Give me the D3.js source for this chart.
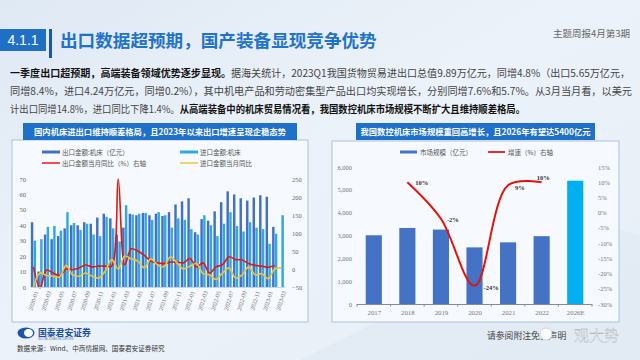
<!DOCTYPE html>
<html><head><meta charset="utf-8">
<script src="https://cdn.jsdelivr.net/npm/d3@7"></script>
<style>body{margin:0;background:#e9f0f8}svg{display:block}</style>
</head><body>
<svg id="c" width="640" height="360"></svg>
<script>
// ---------- data ----------
const months = ["2020-01","2020-02","2020-03","2020-04","2020-05","2020-06","2020-07","2020-08","2020-09","2020-10","2020-11","2020-12",
"2021-01","2021-02","2021-03","2021-04","2021-05","2021-06","2021-07","2021-08","2021-09","2021-10","2021-11","2021-12",
"2022-01","2022-02","2022-03","2022-04","2022-05","2022-06","2022-07","2022-08","2022-09","2022-10","2022-11","2022-12",
"2023-01","2023-02","2023-03"];
const monthTicks = ["2020-01","2020-03","2020-05","2020-07","2020-09","2020-11","2021-01","2021-03","2021-05","2021-07","2021-09","2021-11","2022-01","2022-03","2022-05","2022-07","2022-09","2022-11","2023-01","2023-03"];
const exportValue = [42,10,34,31,33,38,40,40,42,41,45,47.5,44.5,34,38.5,47.5,46.5,48,46.5,47.5,46,48.5,53.5,55.5,57.5,35.5,44,43,49,55,62,60,57.5,56,58,59.5,58.5,39,null];
const importValue = [30,31,39,39.5,36.5,48.5,41.5,37,41,34,33,45.5,38,29.5,53,47,47.5,48,43.5,48.5,46.5,38.5,44.5,43.5,37.5,34,46.5,40,33,41,48.5,39.5,36,42,38.5,37.5,28,34.5,46.5];
const exportYoY = [6,-52,-3,-11,-18,0,-2,3,11,6,8,8,8,250,12,56,50,38,22,17,15,19,19,17,29,6,17,-11,6,12,34,26,25,15,10,8,5,10,null];
const importYoY = [-50,-11,-18,-20,-22,10,-16,-20,-11,-20,-25,-6,26,0,36,28,22,3,28,12,6,34,17,0,8,15,-13,-16,-29,-11,3,-25,-16,6,-16,-13,-27,0,3];
const leftTicksL = [0,10,20,30,40,50,60,70];
const leftTicksR = [-50,0,50,100,150,200,250];

const years = ["2017","2018","2019","2020","2021","2022","2026E"];
const marketSize = [3010,3330,3260,2480,2700,2970,5400];
const growthYears = ["2018","2019","2020","2021","2022"];
const growth = [10,-2,-24,9,10];
const rightTicksL = [0,1000,2000,3000,4000,5000,6000];
const rightTicksR = [-30,-25,-20,-15,-10,-5,0,5,10,15];

// ---------- setup ----------
const svg = d3.select("#c");
const CJK = "'Noto Sans CJK SC','Noto Sans',sans-serif";
const SERIF = "'Liberation Serif','DejaVu Serif',serif";
const defs = svg.append("defs");
const bg = defs.append("linearGradient").attr("id","bg").attr("x1",0).attr("y1",0).attr("x2",1).attr("y2",1);
bg.append("stop").attr("offset","0%").attr("stop-color","#dfe9f4");
bg.append("stop").attr("offset","45%").attr("stop-color","#ecf2f9");
bg.append("stop").attr("offset","100%").attr("stop-color","#e6eef7");
svg.append("rect").attr("width",640).attr("height",360).attr("fill","url(#bg)");
svg.append("path").attr("d","M300,360 L360,330 L420,300 L470,270 L520,250 L560,240 L600,225 L640,235 L640,360 Z")
  .attr("fill","#dfe8f2").attr("opacity",0.6);

// ---------- header ----------
svg.append("rect").attr("x",0).attr("y",29).attr("width",46).attr("height",22).attr("fill","#1f6fc5");
svg.append("text").attr("x",23).attr("y",45).attr("text-anchor","middle").attr("fill","#fff")
  .attr("font-family","'Liberation Sans',Arial,sans-serif").attr("font-size",14).text("4.1.1");
svg.append("rect").attr("x",49).attr("y",29).attr("width",3).attr("height",29).attr("fill","#1c57a5");
svg.append("text").attr("x",60).attr("y",47).attr("fill","#1f73c9").attr("font-family",CJK)
  .attr("font-weight","bold").attr("font-size",17.6).text("出口数据超预期，国产装备显现竞争优势");
svg.append("text").attr("x",630).attr("y",37).attr("text-anchor","end").attr("fill","#666")
  .attr("font-family",CJK).attr("font-size",9.5).text("主题周报4月第3期");

const para = [
  {y:77, w:620, parts:[["一季度出口超预期，高端装备领域优势逐步显现。",true],["据海关统计，2023Q1我国货物贸易进出口总值9.89万亿元，同增4.8%（出口5.65万亿元，",false]]},
  {y:95, w:622, parts:[["同增8.4%，进口4.24万亿元，同增0.2%），其中机电产品和劳动密集型产品出口均实现增长，分别同增7.6%和5.7%。从3月当月看，以美元",false]]},
  {y:113, w:515, parts:[["计出口同增14.8%，进口同比下降1.4%。",false],["从高端装备中的机床贸易情况看，我国数控机床市场规模不断扩大且维持顺差格局。",true]]}
];
para.forEach(p=>{
  const t = svg.append("text").attr("x",10).attr("y",p.y).attr("font-family",CJK).attr("font-size",10.2)
    .attr("fill","#333").attr("textLength",p.w).attr("lengthAdjust","spacingAndGlyphs");
  p.parts.forEach(([s,b])=>t.append("tspan").attr("font-weight",b?"bold":"normal").attr("fill",b?"#111":"#444").text(s));
});

// ---------- left chart ----------
svg.append("rect").attr("x",12).attr("y",140).attr("width",296).attr("height",182)
  .attr("fill","#f6f9fd").attr("stroke","#a9c2de").attr("stroke-width",1);
svg.append("rect").attr("x",23).attr("y",123).attr("width",274).attr("height",17).attr("fill","#1e70c8");
svg.append("text").attr("x",160).attr("y",135).attr("text-anchor","middle").attr("fill","#fff")
  .attr("font-family",CJK).attr("font-weight","bold").attr("font-size",8.3)
  .text("国内机床进出口维持顺差格局，且2023年以来出口增速呈现企稳态势");

const C_EXP="#4470c2", C_IMP="#2fa9e3", C_RED="#e01a12", C_YEL="#ecc63a";
const legL = [
  {x:42,y:152,c:C_EXP,t:"出口金额:机床（亿元）",w:3},
  {x:180,y:152,c:C_IMP,t:"进口金额:机床",w:3},
  {x:42,y:163,c:C_RED,t:"出口金额当月同比（%）右轴",w:1.5},
  {x:180,y:163,c:C_YEL,t:"进口金额当月同比",w:1.5}
];
legL.forEach(l=>{
  svg.append("line").attr("x1",l.x).attr("x2",l.x+18).attr("y1",l.y).attr("y2",l.y).attr("stroke",l.c).attr("stroke-width",l.w);
  svg.append("text").attr("x",l.x+20).attr("y",l.y+2.5).attr("font-family",CJK).attr("font-size",6.5).attr("fill","#555").text(l.t);
});

const xL = d3.scaleBand().domain(months).range([30.2,284.5]).paddingInner(0.2).paddingOuter(0.1);
const xSub = d3.scaleBand().domain(["e","i"]).range([0,xL.bandwidth()]).paddingInner(0.12);
const yL = d3.scaleLinear().domain([0,70]).range([287,179]);
const yLR = d3.scaleLinear().domain([-50,250]).range([287,179]);

const gL = svg.append("g");
gL.selectAll("rect.e").data(months.map((m,i)=>({m,v:exportValue[i]})).filter(d=>d.v!=null)).join("rect")
  .attr("x",d=>xL(d.m)+xSub("e")).attr("width",xSub.bandwidth()).attr("y",d=>yL(d.v)).attr("height",d=>yL(0)-yL(d.v)).attr("fill",C_EXP);
gL.selectAll("rect.i").data(months.map((m,i)=>({m,v:importValue[i]}))).join("rect")
  .attr("x",d=>xL(d.m)+xSub("i")).attr("width",xSub.bandwidth()).attr("y",d=>yL(d.v)).attr("height",d=>yL(0)-yL(d.v)).attr("fill",C_IMP);

const cx = m=>xL(m)+xL.bandwidth()/2;
const lineL = d3.line().defined(d=>d.v!=null).x(d=>cx(d.m)).y(d=>yLR(d.v)).curve(d3.curveCatmullRom.alpha(0.5));
svg.append("defs").append("clipPath").attr("id","clipL").append("rect").attr("x",28).attr("y",170).attr("width",262).attr("height",119);
gL.append("path").attr("clip-path","url(#clipL)").datum(months.map((m,i)=>({m,v:exportYoY[i]}))).attr("d",lineL)
  .attr("fill","none").attr("stroke",C_RED).attr("stroke-width",1.6);
gL.append("path").attr("clip-path","url(#clipL)").datum(months.map((m,i)=>({m,v:importYoY[i]}))).attr("d",lineL)
  .attr("fill","none").attr("stroke",C_YEL).attr("stroke-width",1.6);

const axL = svg.append("g").attr("transform","translate(28,0)").call(d3.axisLeft(yL).tickValues(leftTicksL).tickSize(0).tickPadding(2));
const axLR = svg.append("g").attr("transform","translate(290,0)").call(d3.axisRight(yLR).tickValues(leftTicksR).tickSize(0).tickPadding(2));
[axL,axLR].forEach(a=>{a.select(".domain").remove();a.selectAll("text").attr("font-family",SERIF).attr("font-size",6.5).attr("fill","#666");});
const axLB = svg.append("g").attr("transform","translate(0,287)").call(d3.axisBottom(xL).tickValues(monthTicks).tickSize(0));
axLB.select(".domain").attr("stroke","#c8d3e0");
axLB.selectAll("text").attr("font-family",SERIF).attr("font-size",6).attr("fill","#777")
  .attr("text-anchor","end").attr("dy",0).attr("transform","translate(2,4) rotate(-72)");

// ---------- right chart ----------
svg.append("rect").attr("x",332).attr("y",141).attr("width",287).attr("height",181)
  .attr("fill","#f6f9fd").attr("stroke","#a9c2de").attr("stroke-width",1);
svg.append("rect").attr("x",356).attr("y",123).attr("width",239).attr("height",17).attr("fill","#1e70c8");
svg.append("text").attr("x",475.5).attr("y",135).attr("text-anchor","middle").attr("fill","#fff")
  .attr("font-family",CJK).attr("font-weight","bold").attr("font-size",8.3)
  .text("我国数控机床市场规模重回高增长，且2026年有望达5400亿元");

const legR = [{x:400,c:"#4472c4",t:"市场规模（亿元）",w:3},{x:488,c:C_RED,t:"增速（%）右轴",w:1.8}];
legR.forEach(l=>{
  svg.append("line").attr("x1",l.x).attr("x2",l.x+17).attr("y1",152).attr("y2",152).attr("stroke",l.c).attr("stroke-width",l.w);
  svg.append("text").attr("x",l.x+20).attr("y",154.5).attr("font-family",CJK).attr("font-size",6.5).attr("fill","#555").text(l.t);
});

const xR = d3.scalePoint().domain(years).range([357,592]).padding(0.5);
const bw = xR.step()*0.48;
const yR = d3.scaleLinear().domain([0,6000]).range([304,167]);
const yP = d3.scaleLinear().domain([-30,15]).range([304,167]);

svg.append("g").selectAll("rect").data(years.map((y,i)=>({y,v:marketSize[i]}))).join("rect")
  .attr("x",d=>xR(d.y)-bw/2).attr("width",bw).attr("y",d=>yR(d.v)).attr("height",d=>yR(0)-yR(d.v))
  .attr("fill",d=>d.y==="2026E"?"#00b0f0":"#4472c4");

const axR = svg.append("g").attr("transform","translate(355,0)").call(d3.axisLeft(yR).tickValues(rightTicksL).tickSize(0).tickPadding(3));
const axRR = svg.append("g").attr("transform","translate(595,0)").call(d3.axisRight(yP).tickValues(rightTicksR).tickSize(0).tickPadding(3).tickFormat(d=>d+"%"));
[axR,axRR].forEach(a=>{a.select(".domain").remove();a.selectAll("text").attr("font-family",SERIF).attr("font-size",6.5).attr("fill","#777");});
const axRB = svg.append("g").attr("transform","translate(0,304)").call(d3.axisBottom(xR).tickSize(0).tickPadding(6));
axRB.select(".domain").attr("stroke","#8a8a8a").attr("d","M357,0.5H592");
axRB.selectAll("text").attr("font-family",SERIF).attr("font-size",6.8).attr("fill","#777");
axRB.selectAll("line.sep").data(d3.range(years.length+1)).join("line").attr("class","sep")
  .attr("x1",i=>357+i*xR.step()).attr("x2",i=>357+i*xR.step()).attr("y1",0).attr("y2",2.5).attr("stroke","#8a8a8a");

const gData = growthYears.map((y,i)=>({y,v:growth[i]}));
svg.append("path").datum(gData).attr("d",d3.line().x(d=>xR(d.y)).y(d=>yP(d.v)).curve(d3.curveCatmullRom.alpha(0.5)))
  .attr("fill","none").attr("stroke","#e3120b").attr("stroke-width",2);
const lblOff = {"2018":[8,2.5],"2019":[6,3],"2020":[9,4],"2021":[7,5],"2022":[-5,-2.5]};
svg.append("g").selectAll("text").data(gData).join("text")
  .attr("x",d=>xR(d.y)+lblOff[d.y][0]).attr("y",d=>yP(d.v)+lblOff[d.y][1])
  .attr("font-family",SERIF).attr("font-weight","bold").attr("font-size",6.5).attr("fill","#333")
  .text(d=>d.v+"%");

// ---------- footer ----------
svg.append("ellipse").attr("cx",26).attr("cy",333).attr("rx",8.5).attr("ry",5.5).attr("fill","#1d55a8");
svg.append("ellipse").attr("cx",28.5).attr("cy",333).attr("rx",4.5).attr("ry",4).attr("fill","#fff");
svg.append("text").attr("x",38).attr("y",335.5).attr("font-family",CJK).attr("font-weight","bold").attr("font-size",8.8).attr("fill","#1d4f9e").text("国泰君安证券");
svg.append("text").attr("x",38).attr("y",340).attr("font-family","'Liberation Sans',sans-serif").attr("font-size",2.6).attr("fill","#5a78a8").text("GUOTAI JUNAN SECURITIES");
svg.append("text").attr("x",17).attr("y",351).attr("font-family",CJK).attr("font-size",6.6).attr("fill","#333").text("数据来源：Wind、中商情报网、国泰君安证券研究");
svg.append("text").attr("x",487).attr("y",339).attr("font-family",CJK).attr("font-size",8.8).attr("fill","#444").text("请参阅附注免责声明");
svg.append("circle").attr("cx",546).attr("cy",334).attr("r",6).attr("fill","#fafcfe").attr("stroke","#c9ced6").attr("stroke-width",0.8);
svg.append("text").attr("x",574).attr("y",341).attr("font-family",CJK).attr("font-weight",300).attr("font-size",15).attr("fill","#ffffff")
  .attr("stroke","#a7aeb6").attr("stroke-width",0.35).text("观大势");
</script>
</body></html>
